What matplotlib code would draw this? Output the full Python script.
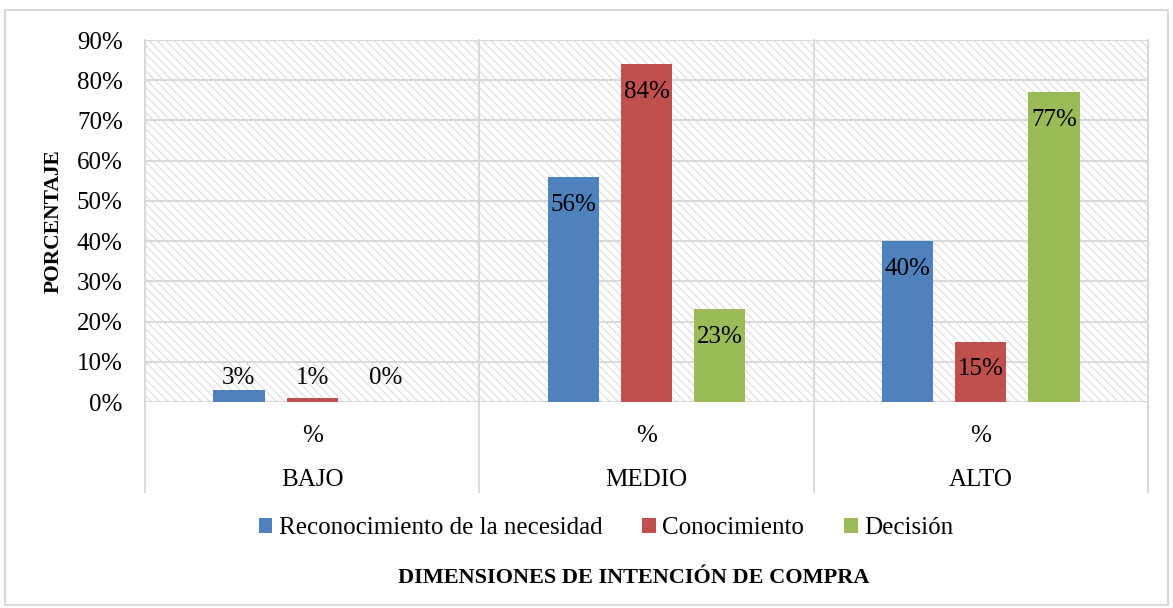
import matplotlib.pyplot as plt
from matplotlib.patches import Rectangle, Patch

plt.rcParams['font.family'] = ['Liberation Serif', 'DejaVu Serif']
plt.rcParams['hatch.linewidth'] = 0.8
plt.rcParams['hatch.color'] = '#dcdcdc'

# ===== 数据 =====
niveles = ["BAJO", "MEDIO", "ALTO"]
series = ["Reconocimiento de la necesidad", "Conocimiento", "Decisión"]
reconocimiento = [3, 56, 40]
conocimiento = [1, 84, 15]
decision = [0, 23, 77]
colores = ['#4f81bd', '#c0504d', '#9bbb59']
yticks = [0, 10, 20, 30, 40, 50, 60, 70, 80, 90]

fig = plt.figure(figsize=(11.73, 6.08), dpi=100)
fig.patches.append(Rectangle((0.0043, 0.005), 0.9915, 0.9786, transform=fig.transFigure,
                             fill=False, edgecolor='#d9d9d9', linewidth=1.5))
ax = fig.add_axes([0.1236, 0.3388, 0.8551, 0.5954])

# 背景斜线
ax.add_patch(Rectangle((0, 0), 1, 1, transform=ax.transAxes, facecolor='white',
                       hatch='\\\\\\\\', edgecolor='#dcdcdc', linewidth=0, zorder=0))

ancho = 0.153
paso = 0.219
for k, (vals, col) in enumerate(zip([reconocimiento, conocimiento, decision], colores)):
    xs = [i + (k - 1) * paso for i in range(len(niveles))]
    ax.bar(xs, vals, width=ancho, color=col, zorder=3)
    for x, v in zip(xs, vals):
        # 小值标签放在柱子上方
        y = 6 if v < 5 else v - 6.9
        ax.text(x, y, f"{v}%", ha='center', va='center', fontsize=18, zorder=4)

ax.set_xlim(-0.5, 2.5)
ax.set_ylim(0, 90)
ax.set_yticks(yticks)
ax.set_yticklabels([f"{t}%" for t in yticks], fontsize=18)
ax.tick_params(axis='y', length=0, pad=16)
ax.set_xticks([])
ax.grid(axis='y', color='#d9d9d9', linewidth=1.5, zorder=1)
for s in ax.spines.values():
    s.set_visible(False)
ax.axhline(0, color='#d9d9d9', linewidth=1.5, zorder=2)
ax.axhline(90, color='#d9d9d9', linewidth=1.5, zorder=2)

# 多层 x 轴
for xv in [-0.5, 0.5, 1.5, 2.5]:
    ax.plot([xv, xv], [90, -22.4], color='#d9d9d9', linewidth=1.5, clip_on=False, zorder=2)
for i, nivel in enumerate(niveles):
    ax.text(i, -8.4, "%", ha='center', va='center', fontsize=18)
    ax.text(i, -19.4, nivel, ha='center', va='center', fontsize=18)

ax.set_ylabel("PORCENTAJE", fontsize=15.5, fontweight='bold')
ax.yaxis.set_label_coords(-0.081, 0.5)
fig.text(634 / 1173, 1 - 578 / 608, "DIMENSIONES DE INTENCIÓN DE COMPRA",
         ha='center', va='center', fontsize=16, fontweight='bold')

handles = [Patch(facecolor=c, label=s) for s, c in zip(series, colores)]
fig.legend(handles=handles, loc='center', bbox_to_anchor=(606 / 1173, 1 - 528 / 608), ncol=3,
           frameon=False, fontsize=18, handlelength=0.55, handleheight=0.55,
           handletextpad=0.25, columnspacing=1.6)

plt.savefig("out.png", dpi=100)
